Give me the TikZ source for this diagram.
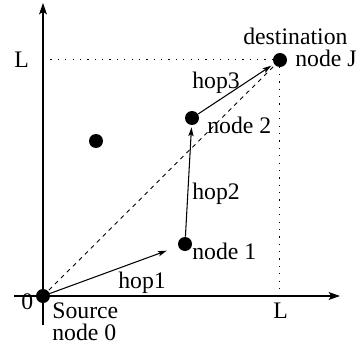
\documentclass[tikz,border=0pt]{standalone}
\usepackage{fontspec}
\setmainfont{Liberation Serif}
\usetikzlibrary{arrows.meta, positioning}

\tikzset{
  dot/.style={circle, fill=black, inner sep=0pt, minimum size=0.28cm},
  lbl/.style={anchor=base west, inner sep=0pt, font=\fontsize{13.5}{16}\selectfont},
  axis/.style={line width=0.6pt, -{Stealth[length=6.5pt, width=4.5pt, inset=1.5pt]}},
  hop/.style={line width=0.6pt, -{Stealth[length=5pt, width=3pt, inset=1pt]}},
  guide/.style={line width=0.7pt, dash pattern=on 0.7pt off 3.5pt},
}

\begin{document}
\begin{tikzpicture}
  \useasboundingbox (-0.86,-1.06) rectangle (6.3,5.92);

  % axes
  \draw[axis] (-0.58,0) -- (5.94,0);
  \draw[axis] (0,-0.58) -- (0,5.86);

  % dotted L lines
  \draw[guide] (0,4.73) -- (4.73,4.73) -- (4.73,0);

  % nodes
  \node[dot] (src) at (0,0) {};
  \node[dot] (n1) at (2.84,1.04) {};
  \node[dot] (n2) at (2.98,3.56) {};
  \node[dot] (dst) at (4.74,4.72) {};
  \node[dot] (other) at (1.06,3.10) {};

  % direct line and hops
  \draw[line width=0.5pt, dash pattern=on 2.4pt off 2.4pt] (src.center) -- (dst);
  \draw[hop, shorten >=0.24cm] (src.center) -- (n1);
  \draw[hop, shorten >=0.04cm] (n1) -- (n2);
  \draw[hop, shorten >=0.06cm] (n2) -- (dst);

  % labels
  \node[lbl] (lblL1) at (-0.58,4.58) {L};
  \node[lbl] (lblL2) at (4.6,-0.44) {L};
  \node[lbl] (lblzero) at (-0.44,-0.26) {0};
  \node[lbl] (lblsrc) at (0.18,-0.44) {Source};
  \node[lbl] (lblsrc2) at (0.18,-0.88) {node 0};
  \node[lbl] (lblhop1) at (1.5,0.16) {hop1};
  \node[lbl] (lbln1) at (2.98,0.74) {node 1};
  \node[lbl] (lblhop2) at (2.98,1.94) {hop2};
  \node[lbl] (lbln2) at (3.28,3.26) {node 2};
  \node[lbl] (lblhop3) at (2.98,4.16) {hop3};
  \node[lbl] (lbldst) at (4.0,5.04) {destination};
  \node[lbl] (lbldst2) at (5.04,4.59) {node J};
\end{tikzpicture}
\end{document}
